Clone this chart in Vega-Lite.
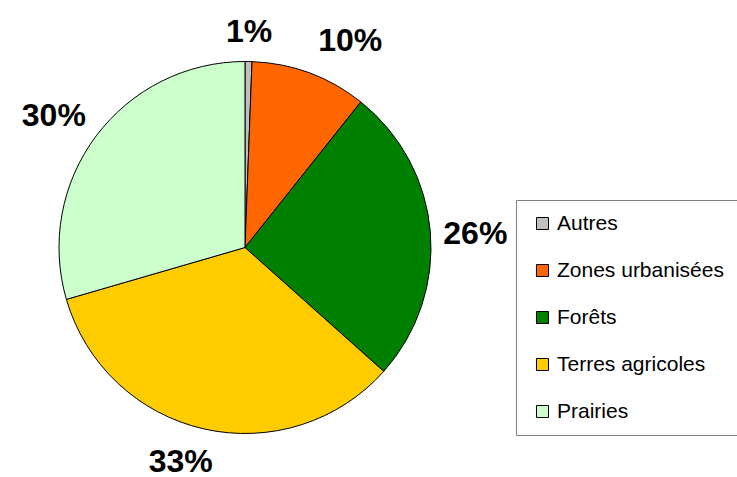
{
  "$schema": "https://vega.github.io/schema/vega-lite/v6.json",
  "width": 490,
  "height": 477,
  "padding": {"left": 0, "top": 9, "right": 0, "bottom": 0},
  "background": "white",
  "config": {"view": {"stroke": null}, "font": "Liberation Sans"},
  "data": {
    "values": [
      {"cat": "Autres", "value": 0.6, "label": "1%", "ord": 1},
      {"cat": "Zones urbanisées", "value": 10.1, "label": "10%", "ord": 2},
      {"cat": "Forêts", "value": 25.9, "label": "26%", "ord": 3},
      {"cat": "Terres agricoles", "value": 33.9, "label": "33%", "ord": 4},
      {"cat": "Prairies", "value": 29.5, "label": "30%", "ord": 5}
    ]
  },
  "encoding": {
    "theta": {"field": "value", "type": "quantitative", "stack": true},
    "order": {"field": "ord", "type": "quantitative"}
  },
  "layer": [
    {
      "mark": {"type": "arc", "outerRadius": 186, "stroke": "black", "strokeWidth": 1},
      "encoding": {
        "color": {
          "field": "cat",
          "type": "nominal",
          "scale": {
            "domain": ["Autres", "Zones urbanisées", "Forêts", "Terres agricoles", "Prairies"],
            "range": ["#C0C0C0", "#FF6600", "#008000", "#FFCC00", "#CCFFCC"]
          },
          "legend": {
            "title": null,
            "orient": "none",
            "legendX": 516,
            "legendY": 191,
            "direction": "vertical",
            "fillColor": "white",
            "strokeColor": "#808080",
            "padding": 13,
            "symbolType": "square",
            "symbolSize": 144,
            "symbolOffset": 3,
            "symbolStrokeColor": "black",
            "symbolStrokeWidth": 1,
            "symbolOpacity": 1,
            "labelFont": "Liberation Sans",
            "labelFontSize": 21,
            "labelColor": "black",
            "labelOffset": 4,
            "labelLimit": 400,
            "rowPadding": 25
          }
        }
      }
    },
    {
      "mark": {"type": "text", "radius": 216, "align": "center", "baseline": "middle", "font": "Liberation Sans", "fontSize": 32, "fontWeight": "bold", "color": "black"},
      "encoding": {"text": {"condition": {"test": "datum.label === '1%'", "field": "label"}, "value": ""}}
    },
    {
      "mark": {"type": "text", "radius": 202, "align": "left", "baseline": "bottom", "dx": 3, "font": "Liberation Sans", "fontSize": 32, "fontWeight": "bold", "color": "black"},
      "encoding": {"text": {"condition": {"test": "datum.label === '10%'", "field": "label"}, "value": ""}}
    },
    {
      "mark": {"type": "text", "radius": 199, "align": "left", "baseline": "middle", "dy": 3, "font": "Liberation Sans", "fontSize": 32, "fontWeight": "bold", "color": "black"},
      "encoding": {"text": {"condition": {"test": "datum.label === '26%'", "field": "label"}, "value": ""}}
    },
    {
      "mark": {"type": "text", "radius": 205, "align": "center", "baseline": "top", "dx": -19, "font": "Liberation Sans", "fontSize": 32, "fontWeight": "bold", "color": "black"},
      "encoding": {"text": {"condition": {"test": "datum.label === '33%'", "field": "label"}, "value": ""}}
    },
    {
      "mark": {"type": "text", "radius": 199, "align": "right", "baseline": "bottom", "dy": 5, "font": "Liberation Sans", "fontSize": 32, "fontWeight": "bold", "color": "black"},
      "encoding": {"text": {"condition": {"test": "datum.label === '30%'", "field": "label"}, "value": ""}}
    }
  ]
}
